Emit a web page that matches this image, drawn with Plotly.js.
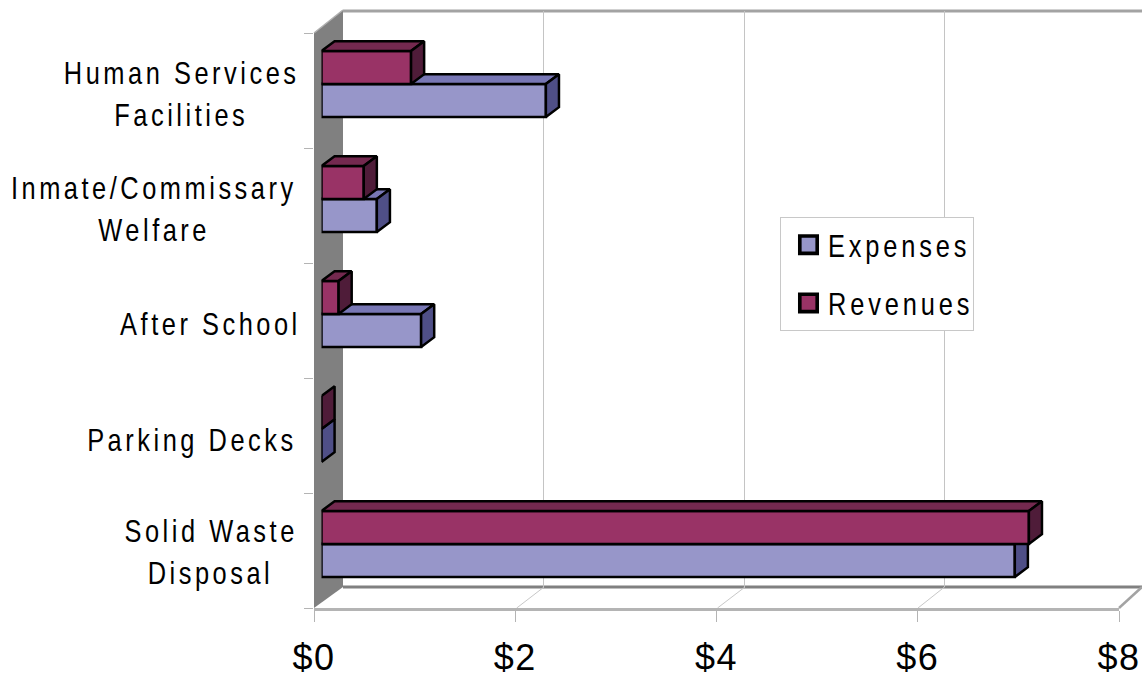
<!DOCTYPE html>
<html><head><meta charset="utf-8">
<script src="https://cdn.plot.ly/plotly-3.0.1.min.js"></script>
<style>
html,body{margin:0;padding:0;background:#fff}
#chart{width:1142px;height:677px}
#chart .annotation-text{letter-spacing:4.3px;transform-box:fill-box;transform-origin:center;transform:scaleX(.82)}
#chart .legendtext{letter-spacing:4.7px;transform-box:fill-box;transform-origin:left center;transform:scaleX(.82)}
#chart .x2tick text{letter-spacing:1.5px}
#chart .legendpoints path{transform:translate(27.5px,0) scale(1.45) !important}
</style></head><body><div id="chart"></div>
<script>
// Data, listed bottom row first
const categories=['Solid Waste Disposal','Parking Decks','After School','Inmate/Commissary Welfare','Human Services Facilities'];
const categoryLines=[['Solid Waste','Disposal'],['Parking Decks'],['After School'],['Inmate/Commissary','Welfare'],['Human Services','Facilities']];
const expenses=[6.89,0,0.99,0.55,2.23];
const revenues=[7.03,0,0.17,0.42,0.89];
const xTickVals=[0,2,4,6,8];
const xTickText=['$0','$2','$4','$6','$8'];
const seriesNames=['Expenses','Revenues'];

// Look
const W=1142,H=677;
const px=x=>x/W, py=y=>1-y/H;
const labelCenters=[210.5,192,210.5,154,181];
const labelShift=[-8,-11,-10,-10.5,-10.5];
const FONT='"Liberation Sans",Arial,sans-serif';
const barW=0.287, depthX=0.13, depthY=0.085;
const expCols={front:'#9796C9',top:'#7877B5',side:'#4F4F87'};
const revCols={front:'#993366',top:'#74294F',side:'#4F1C39'};
const barXDomain=[px(321.5),px(1126.5)], barYDomain=[py(601.5),py(26.5)];
const rows=categories.map((c,i)=>i);

function faces(values,lo,hi){
  const top={x:[],y:[]},side={x:[],y:[]};
  values.forEach((v,i)=>{
    if(v>0){
      top.x.push(0,depthX,v+depthX,v,0,null);
      top.y.push(i+hi,i+hi+depthY,i+hi+depthY,i+hi,i+hi,null);
    }
    side.x.push(v,v+depthX,v+depthX,v,v,null);
    side.y.push(i+lo,i+lo+depthY,i+hi+depthY,i+hi,i+lo,null);
  });
  return {top,side};
}
function series(name,values,lo,cols,xa,ya,grp){
  const f=faces(values,lo,lo+barW);
  const poly=(d,c)=>({type:'scatter',mode:'lines',x:d.x,y:d.y,xaxis:xa,yaxis:ya,fill:'toself',fillcolor:c,
    line:{color:'#000',width:2.5},showlegend:false,hoverinfo:'skip',cliponaxis:false,connectgaps:false,legendgroup:grp});
  return [
    {type:'bar',orientation:'h',name,x:values,y:rows,width:barW,offset:lo,xaxis:xa,yaxis:ya,legendgroup:grp,
     marker:{color:cols.front,line:{color:'#000',width:2.5}},cliponaxis:false},
    poly(f.top,cols.top),poly(f.side,cols.side)
  ];
}
const traces=[
  {type:'scatter',x:[],y:[],xaxis:'x',yaxis:'y',showlegend:false,hoverinfo:'skip'},
  {type:'scatter',x:[],y:[],xaxis:'x2',yaxis:'y2',showlegend:false,hoverinfo:'skip'},
  ...series(seriesNames[0],expenses,-barW,expCols,'x3','y3','e'),
  ...series(seriesNames[1],revenues,0,revCols,'x4','y4','r')
];

const hidden={showticklabels:false,ticks:'',showgrid:false,zeroline:false,showline:false,fixedrange:true};
const barX={...hidden,domain:barXDomain,range:[0,8]}, barY={...hidden,domain:barYDomain,range:[-0.5,4.5]};

const annotations=[];
categoryLines.forEach((lines,i)=>lines.forEach((t,j)=>{
  annotations.push({text:t,xref:'paper',x:px(labelCenters[i]),xanchor:'center',yref:'y3',y:i,yanchor:'middle',
    yshift:labelShift[i]+(lines.length>1?(j===0?21:-21):0),showarrow:false,font:{family:FONT,size:31,color:'#000'}});
}));

const line=(x0,y0,x1,y1,color,width)=>({type:'line',xref:'paper',yref:'paper',x0:px(x0),y0:py(y0),x1:px(x1),y1:py(y1),
  layer:'below',line:{color,width}});
const shapes=[
  {type:'path',xref:'paper',yref:'paper',layer:'below',fillcolor:'#808080',line:{width:0},
   path:`M${px(314)},${py(33)}L${px(343)},${py(10)}L${px(343)},${py(587)}L${px(314)},${py(608)}Z`},
  line(343,11,1142,11,'#A3A3A3',3),
  line(343,587,1142,587,'#808080',3),
  line(314,33,343,10,'#B0B0B0',1.5),
  line(516.7,608,544,587,'#C8C8C8',1),
  line(717.5,608,745,587,'#C8C8C8',1),
  line(918,608,944.5,587,'#C8C8C8',1),
  line(1119,608,1142,587,'#A3A3A3',2.5)
];

const layout={
  width:W,height:H,margin:{l:0,r:0,t:0,b:0,pad:0},paper_bgcolor:'#fff',plot_bgcolor:'rgba(0,0,0,0)',
  showlegend:true,barmode:'overlay',hovermode:false,
  legend:{x:px(780),xanchor:'left',y:py(217),yanchor:'top',bgcolor:'#fff',bordercolor:'#C8C8C8',borderwidth:1,
    traceorder:'grouped',tracegroupgap:15,itemwidth:37,entrywidth:164,entrywidthmode:'pixels',
    font:{family:FONT,size:31,color:'#000'},itemclick:false,itemdoubleclick:false},
  xaxis:{...hidden,domain:[px(343.5),1],range:[0,7.97],showgrid:true,gridcolor:'#C4C4C4',gridwidth:1,tick0:0,dtick:2,anchor:'y'},
  yaxis:{...hidden,domain:[py(587),py(11)],range:[0,1],anchor:'x'},
  xaxis2:{domain:[px(314),px(1119)],range:[0,8],anchor:'y2',tickmode:'array',tickvals:xTickVals,ticktext:xTickText,
    ticks:'outside',ticklen:11,tickcolor:'#B4B4B4',tickwidth:1,showline:true,linecolor:'#B4B4B4',linewidth:2.5,
    showgrid:false,zeroline:false,fixedrange:true,ticklabelstandoff:5,tickfont:{family:FONT,size:36,color:'#000'}},
  yaxis2:{domain:[py(608),py(33)],range:[-0.5,4.5],anchor:'x2',tickmode:'linear',tick0:-0.5,dtick:1,
    ticks:'outside',ticklen:9,tickcolor:'#B4B4B4',tickwidth:1,showticklabels:false,showline:false,showgrid:false,zeroline:false,fixedrange:true},
  xaxis3:{...barX,anchor:'y3'},yaxis3:{...barY,anchor:'x3'},
  xaxis4:{...barX,anchor:'y4'},yaxis4:{...barY,anchor:'x4'},
  annotations,shapes
};
Plotly.newPlot('chart',traces,layout,{displayModeBar:false,staticPlot:true});
</script></body></html>
